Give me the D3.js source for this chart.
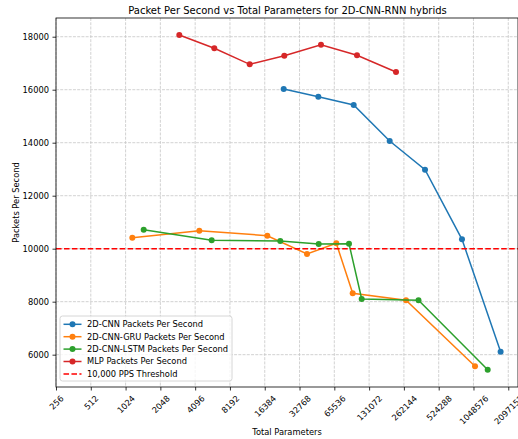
<!DOCTYPE html>
<html>
<head>
<meta charset="utf-8">
<script src="https://cdn.jsdelivr.net/npm/d3@7"></script>
<style>
  html, body { margin: 0; padding: 0; background: #fff; }
  svg { display: block; font-family: "DejaVu Sans", sans-serif; }
</style>
</head>
<body>
<svg id="chart" width="518" height="439"></svg>
<script>
// Throughput (packets per second) against model size for each architecture
const cnnParams  = [23900, 47650, 96400, 197500, 399300, 834000, 1800000];
const cnnPps     = [16027, 15736, 15423, 14064, 12981, 10355, 6110];

const gruParams  = [1171, 4450, 17250, 38040, 68160, 94500, 273500, 1081000];
const gruPps     = [10415, 10679, 10490, 9800, 10203, 8316, 8052, 5561];

const lstmParams = [1469, 5694, 22330, 48010, 87800, 113070, 350700, 1392000];
const lstmPps    = [10717, 10316, 10290, 10177, 10188, 8101, 8052, 5433];

const mlpParams  = [2986, 5997, 12143, 24190, 50260, 102970, 224000];
const mlpPps     = [18064, 17562, 16958, 17283, 17698, 17298, 16668];

const threshold = 10000;

const xTickValues = [256, 512, 1024, 2048, 4096, 8192, 16384, 32768, 65536,
                     131072, 262144, 524288, 1048576, 2097152];
const yTickValues = [6000, 8000, 10000, 12000, 14000, 16000, 18000];

const seriesNames = ["2D-CNN Packets Per Second", "2D-CNN-GRU Packets Per Second",
                     "2D-CNN-LSTM Packets Per Second", "MLP Packets Per Second"];
const thresholdName = "10,000 PPS Threshold";
const colors = ["#1f77b4", "#ff7f0e", "#2ca02c", "#d62728"];

const series = [
  { name: seriesNames[0], x: cnnParams,  y: cnnPps,  color: colors[0] },
  { name: seriesNames[1], x: gruParams,  y: gruPps,  color: colors[1] },
  { name: seriesNames[2], x: lstmParams, y: lstmPps, color: colors[2] },
  { name: seriesNames[3], x: mlpParams,  y: mlpPps,  color: colors[3] }
];

const FONT = 8.3;
const TITLE_FONT = 10;

const svg = d3.select("#chart");
const plot = { left: 56, right: 518, top: 18, bottom: 387 };

const x = d3.scaleLog().base(2)
  .domain([256, Math.pow(2, 8 + (plot.right - plot.left) / 34.79)])
  .range([plot.left, plot.right]);
const y = d3.scaleLinear()
  .domain([4780, 18706])
  .range([plot.bottom, plot.top]);

// grid
const grid = svg.append("g").attr("stroke", "#b0b0b0").attr("stroke-width", 0.8)
  .attr("stroke-dasharray", "2.96,1.28").attr("opacity", 0.7);
xTickValues.forEach(v => {
  grid.append("line").attr("x1", x(v)).attr("x2", x(v))
    .attr("y1", plot.top).attr("y2", plot.bottom);
});
yTickValues.forEach(v => {
  grid.append("line").attr("x1", plot.left).attr("x2", plot.right)
    .attr("y1", y(v)).attr("y2", y(v));
});

// axes
const xAxis = d3.axisBottom(x).tickValues(xTickValues).tickSize(3.5).tickPadding(3.5)
  .tickFormat(d => String(d));
const gx = svg.append("g").attr("transform", `translate(0,${plot.bottom})`).call(xAxis);
gx.select(".domain").remove();
gx.selectAll(".tick line").attr("stroke", "#000").attr("stroke-width", 0.8);
gx.selectAll(".tick text").each(function() {
  const t = d3.select(this);
  t.attr("font-size", FONT).attr("fill", "#000").attr("font-family", "DejaVu Sans");
  const w = this.getComputedTextLength();
  const h = FONT * 1.15;
  const half = (w + h) / (2 * Math.SQRT2);
  t.attr("y", null).attr("dy", "0.35em").attr("text-anchor", "middle")
    .attr("transform", `translate(0,${3.5 + 3.0 + half}) rotate(-45)`);
});

const yAxis = d3.axisLeft(y).tickValues(yTickValues).tickSize(3.5).tickPadding(3.5)
  .tickFormat(d => String(d));
const gy = svg.append("g").attr("transform", `translate(${plot.left},0)`).call(yAxis);
gy.select(".domain").remove();
gy.selectAll(".tick line").attr("stroke", "#000").attr("stroke-width", 0.8);
gy.selectAll(".tick text").attr("font-size", FONT).attr("fill", "#000")
  .attr("font-family", "DejaVu Sans");

// clipped data layer
svg.append("clipPath").attr("id", "clip").append("rect")
  .attr("x", plot.left).attr("y", plot.top)
  .attr("width", plot.right - plot.left).attr("height", plot.bottom - plot.top);
const data = svg.append("g").attr("clip-path", "url(#clip)");

const line = d3.line().x(d => x(d[0])).y(d => y(d[1]));
series.forEach(s => {
  const pts = s.x.map((v, i) => [v, s.y[i]]);
  data.append("path").datum(pts).attr("d", line)
    .attr("fill", "none").attr("stroke", s.color).attr("stroke-width", 1.5);
  data.selectAll(null).data(pts).enter().append("circle")
    .attr("cx", d => x(d[0])).attr("cy", d => y(d[1])).attr("r", 3)
    .attr("fill", s.color);
});

data.append("line").attr("x1", plot.left).attr("x2", plot.right)
  .attr("y1", y(threshold)).attr("y2", y(threshold))
  .attr("stroke", "#ff0000").attr("stroke-width", 1.5)
  .attr("stroke-dasharray", "5.55,2.4");

// frame
svg.append("rect").attr("x", plot.left).attr("y", plot.top)
  .attr("width", plot.right - plot.left).attr("height", plot.bottom - plot.top)
  .attr("fill", "none").attr("stroke", "#000").attr("stroke-width", 0.8);

// title and axis labels
svg.append("text").attr("x", 287.5).attr("y", 14)
  .attr("text-anchor", "middle").attr("font-size", TITLE_FONT).attr("fill", "#000")
  .text("Packet Per Second vs Total Parameters for 2D-CNN-RNN hybrids");
svg.append("text").attr("x", 287).attr("y", 434.5)
  .attr("text-anchor", "middle").attr("font-size", FONT).attr("fill", "#000")
  .text("Total Parameters");
svg.append("text")
  .attr("transform", `translate(18.5,${(plot.top + plot.bottom) / 2}) rotate(-90)`)
  .attr("text-anchor", "middle").attr("font-size", FONT).attr("fill", "#000")
  .text("Packets Per Second");

// legend
const legend = svg.append("g");
legend.append("rect").attr("x", 60).attr("y", 316).attr("width", 172).attr("height", 65)
  .attr("rx", 2.5).attr("fill", "#fff").attr("fill-opacity", 0.8)
  .attr("stroke", "#cccccc").attr("stroke-width", 0.8);
const entries = series.map(s => ({ name: s.name, color: s.color, dashed: false }))
  .concat([{ name: thresholdName, color: "#ff0000", dashed: true }]);
entries.forEach((e, i) => {
  const cy = 324.3 + i * 12.4;
  const g = legend.append("g");
  g.append("line").attr("x1", 63.5).attr("x2", 81.5).attr("y1", cy).attr("y2", cy)
    .attr("stroke", e.color).attr("stroke-width", 1.5)
    .attr("stroke-dasharray", e.dashed ? "5.55,2.4" : null);
  if (!e.dashed) {
    g.append("circle").attr("cx", 72.5).attr("cy", cy).attr("r", 3).attr("fill", e.color);
  }
  g.append("text").attr("x", 87).attr("y", cy).attr("dy", "0.35em")
    .attr("font-size", FONT).attr("fill", "#000").text(e.name);
});
</script>
</body>
</html>
